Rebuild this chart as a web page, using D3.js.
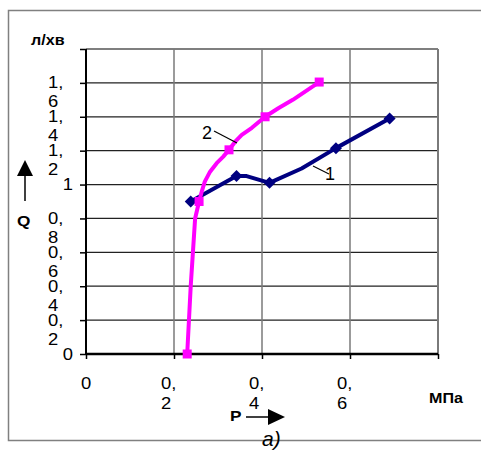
<!DOCTYPE html>
<html>
<head>
<meta charset="utf-8">
<script src="https://cdn.jsdelivr.net/npm/d3@7"></script>
<style>
  body { margin: 0; background: #fff; }
  svg text { font-family: "Liberation Sans", Arial, sans-serif; }
</style>
</head>
<body>
<div id="chart"></div>
<script>
// Data: P (MPa) vs Q (l/min)
const curve1P = [0.238, 0.342, 0.365, 0.417, 0.490, 0.568, 0.690];
const curve1Q = [0.90, 1.05, 1.05, 1.01, 1.095, 1.215, 1.39];
const curve1Marked = [true, true, false, true, false, true, true];

const curve2P = [0.230, 0.238, 0.248, 0.257, 0.263, 0.270, 0.282, 0.297, 0.312, 0.325, 0.339, 0.354, 0.377, 0.407, 0.437, 0.470, 0.530];
const curve2Q = [0.00, 0.40, 0.80, 0.90, 0.958, 1.017, 1.076, 1.126, 1.165, 1.205, 1.253, 1.293, 1.335, 1.40, 1.45, 1.50, 1.605];
const curve2Marked = [true, false, false, true, false, false, false, false, false, true, false, false, false, true, false, false, true];

const yTicks = [0, 0.2, 0.4, 0.6, 0.8, 1, 1.2, 1.4, 1.6, 1.8];
const yTickLabels = ["0", "0,2", "0,4", "0,6", "0,8", "1", "1,2", "1,4", "1,6", ""];
const xTicks = [0, 0.2, 0.4, 0.6, 0.8];
const xTickLabels = ["0", "0,2", "0,4", "0,6", ""];

const W = 481, H = 453;
const plot = {left: 86, top: 49, right: 438, bottom: 354};

const svg = d3.select("#chart").append("svg")
  .attr("width", W).attr("height", H);

const x = d3.scaleLinear().domain([0, 0.8]).range([plot.left, plot.right]);
const y = d3.scaleLinear().domain([0, 1.8]).range([plot.bottom, plot.top]);

// outer frame (no right edge)
svg.append("path")
  .attr("d", `M${W},10.5 H8.5 V440.5 H${W}`)
  .attr("fill", "none").attr("stroke", "#808080").attr("stroke-width", 1.5);

// horizontal grid
svg.append("g").selectAll("line")
  .data(yTicks.slice(1))
  .enter().append("line")
  .attr("x1", plot.left).attr("x2", plot.right)
  .attr("y1", d => y(d)).attr("y2", d => y(d))
  .attr("stroke", d => d === 1.8 ? "#000" : "#222").attr("stroke-width", 1.2);

// vertical grid
svg.append("g").selectAll("line")
  .data(xTicks.slice(1))
  .enter().append("line")
  .attr("x1", d => x(d)).attr("x2", d => x(d))
  .attr("y1", plot.top).attr("y2", plot.bottom)
  .attr("stroke", "#7a7a7a").attr("stroke-width", d => d === 0.8 ? 2 : 1.5);

// axes
const yAxis = svg.append("g")
  .attr("transform", `translate(${plot.left},0)`)
  .call(d3.axisLeft(y).tickValues(yTicks).tickSize(6).tickFormat(""));
yAxis.select(".domain").attr("stroke", "#000").attr("stroke-width", 2).attr("d", `M0,${plot.top}V${plot.bottom}`);
yAxis.selectAll(".tick line").attr("stroke", "#000").attr("stroke-width", 1.5);

const xAxis = svg.append("g")
  .attr("transform", `translate(0,${plot.bottom})`)
  .call(d3.axisBottom(x).tickValues(xTicks).tickSize(5).tickFormat(""));
xAxis.select(".domain").attr("stroke", "#000").attr("stroke-width", 2.5).attr("d", `M${plot.left},0H${plot.right}`);
xAxis.selectAll(".tick line").attr("stroke", "#000").attr("stroke-width", 1.5);

// stretched text helper (the original picture is widened horizontally)
function label(g, tx, ty, str, opts) {
  opts = opts || {};
  return g.append("text")
    .attr("transform", `translate(${tx},${ty}) scale(${opts.sx || 1.15},1)`)
    .attr("text-anchor", opts.anchor || "start")
    .attr("dominant-baseline", "central")
    .attr("font-size", opts.size || 16)
    .attr("font-weight", opts.weight || "normal")
    .attr("fill", "#000")
    .text(str);
}

// y tick labels, wrapped after the comma like the original
const tl = svg.append("g");
yTicks.forEach((v, i) => {
  const s = yTickLabels[i];
  if (!s) return;
  const parts = s.split(",");
  if (parts.length === 1) {
    label(tl, 73, y(v), s, {anchor: "end"});
  } else {
    label(tl, 48, y(v), parts[0] + ",");
    label(tl, 48, y(v) + 19, parts[1]);
  }
});

// x tick labels
xTicks.forEach((v, i) => {
  const s = xTickLabels[i];
  if (!s) return;
  const parts = s.split(",");
  if (parts.length === 1) {
    label(tl, x(v), 383, s, {anchor: "middle"});
  } else {
    label(tl, x(v) - 13, 383, parts[0] + ",");
    label(tl, x(v) - 13, 403, parts[1]);
  }
});

// axis titles
label(svg, 31, 40, "л/хв", {weight: "bold", size: 14});
label(svg, 429, 398, "МПа", {weight: "bold", size: 14});
label(svg, 17, 220, "Q", {weight: "bold", size: 15});
label(svg, 230, 415, "P", {weight: "bold", size: 15});

// arrows
svg.append("line").attr("x1", 25).attr("x2", 25).attr("y1", 201).attr("y2", 172)
  .attr("stroke", "#000").attr("stroke-width", 1.5);
svg.append("path").attr("d", "M25,160 L17,176 L33,176 Z").attr("fill", "#000");
svg.append("line").attr("x1", 246).attr("x2", 272).attr("y1", 417).attr("y2", 417)
  .attr("stroke", "#000").attr("stroke-width", 1.5);
svg.append("path").attr("d", "M285,417 L268,409 L268,425 Z").attr("fill", "#000");

// caption a)
svg.append("text").attr("x", 262).attr("y", 446)
  .attr("font-family", "'Liberation Serif', 'Times New Roman', serif")
  .attr("font-style", "italic").attr("font-size", 21).text("a)");

// series lines
const line = d3.line().x(d => x(d[0])).y(d => y(d[1]));
const s1 = curve1P.map((p, i) => [p, curve1Q[i], curve1Marked[i]]);
const s2 = curve2P.map((p, i) => [p, curve2Q[i], curve2Marked[i]]);

svg.append("path").datum(s1).attr("d", line)
  .attr("fill", "none").attr("stroke", "#000080").attr("stroke-width", 4)
  .attr("stroke-linejoin", "round");
svg.append("path").datum(s2).attr("d", line)
  .attr("fill", "none").attr("stroke", "#ff00ff").attr("stroke-width", 4)
  .attr("stroke-linejoin", "round");

// markers
svg.append("g").selectAll("path")
  .data(s1.filter(d => d[2]))
  .enter().append("path")
  .attr("transform", d => `translate(${x(d[0])},${y(d[1])})`)
  .attr("d", "M0,-6 L6,0 L0,6 L-6,0 Z")
  .attr("fill", "#000080");
svg.append("g").selectAll("rect")
  .data(s2.filter(d => d[2]))
  .enter().append("rect")
  .attr("x", d => x(d[0]) - 4.5).attr("y", d => y(d[1]) - 4.5)
  .attr("width", 9).attr("height", 9)
  .attr("fill", "#ff00ff");

// curve numbers with leader lines
const serif = "'Liberation Serif', 'Times New Roman', serif";
svg.append("line").attr("x1", 214).attr("y1", 131).attr("x2", 237).attr("y2", 143)
  .attr("stroke", "#000").attr("stroke-width", 1.2);
svg.append("text").attr("x", 202).attr("y", 139).attr("font-family", serif)
  .attr("font-size", 18).text("2");
svg.append("line").attr("x1", 313).attr("y1", 166).attr("x2", 329).attr("y2", 174)
  .attr("stroke", "#000").attr("stroke-width", 1.2);
svg.append("text").attr("x", 325).attr("y", 180).attr("font-family", serif)
  .attr("font-size", 18).text("1");
</script>
</body>
</html>
